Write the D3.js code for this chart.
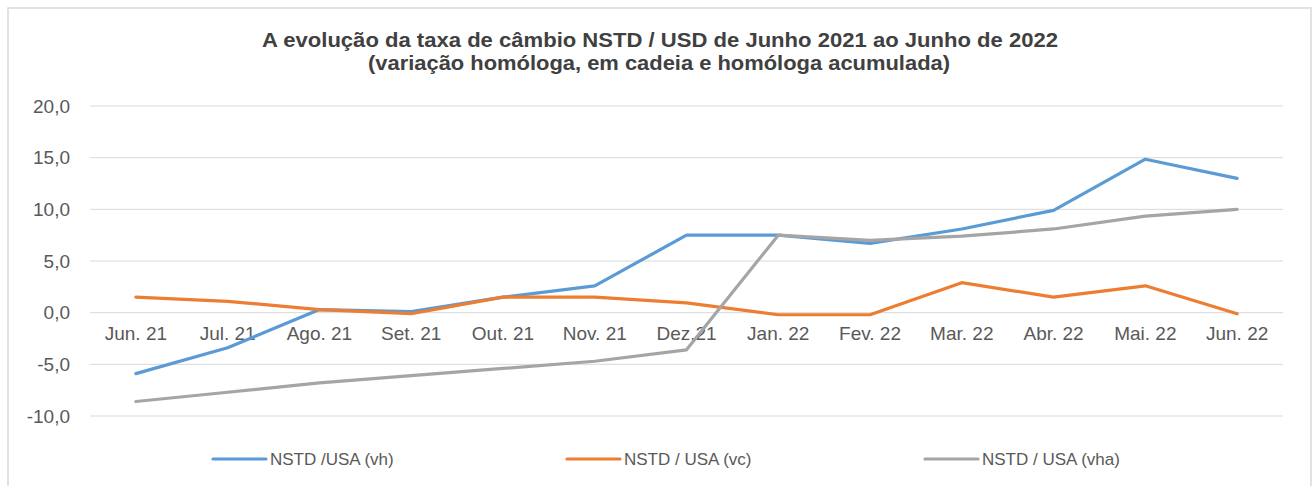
<!DOCTYPE html>
<html>
<head>
<meta charset="utf-8">
<script src="https://cdn.jsdelivr.net/npm/d3@7"></script>
<style>
    body { margin: 0; background: #fff; }
    text { font-family: "Liberation Sans", Arial, sans-serif; }
</style>
</head>
<body>
<div id="chart"></div>
<script>
// categories and series
const months = ["Jun. 21", "Jul. 21", "Ago. 21", "Set. 21", "Out. 21", "Nov. 21", "Dez.21",
    "Jan. 22", "Fev. 22", "Mar. 22", "Abr. 22", "Mai. 22", "Jun. 22"];
const vh = [-5.9, -3.4, 0.3, 0.1, 1.5, 2.6, 7.5, 7.5, 6.7, 8.1, 9.9, 14.85, 13.0];
const vc = [1.5, 1.1, 0.3, -0.1, 1.5, 1.5, 0.95, -0.2, -0.2, 2.9, 1.5, 2.6, -0.1];
const vha = [-8.6, -7.7, -6.8, -6.1, -5.4, -4.7, -3.6, 7.5, 7.0, 7.4, 8.1, 9.35, 10.0];
const yTicks = [-10, -5, 0, 5, 10, 15, 20];

const series = [
    { name: "NSTD /USA (vh)", values: vh, color: "#5b9bd5" },
    { name: "NSTD / USA (vc)", values: vc, color: "#ed7d31" },
    { name: "NSTD / USA (vha)", values: vha, color: "#a5a5a5" }
];

const width = 1314, height = 486;
const margin = { top: 106, right: 31, bottom: 70, left: 90 };
const innerW = width - margin.left - margin.right;

const svg = d3.select("#chart").append("svg")
    .attr("width", width)
    .attr("height", height);

// chart frame
svg.append("rect")
    .attr("x", 8).attr("y", 8)
    .attr("width", 1303).attr("height", 490)
    .attr("fill", "none")
    .attr("stroke", "#d9d9d9")
    .attr("stroke-width", 1.5);

// title (the original is set a bit wide, so stretch to its width)
const title = svg.append("text")
    .attr("text-anchor", "middle")
    .attr("fill", "#404040")
    .style("font-weight", "bold")
    .style("font-size", "20px");
title.append("tspan").attr("x", 660).attr("y", 47)
    .attr("textLength", 796).attr("lengthAdjust", "spacingAndGlyphs")
    .text("A evolução da taxa de câmbio NSTD / USD de Junho 2021 ao Junho de 2022");
title.append("tspan").attr("x", 659).attr("y", 70)
    .attr("textLength", 582).attr("lengthAdjust", "spacingAndGlyphs")
    .text("(variação homóloga, em cadeia e homóloga acumulada)");

const g = svg.append("g")
    .attr("transform", `translate(${margin.left},${margin.top})`);

const x = d3.scaleBand()
    .domain(months)
    .range([0, innerW]);

const y = d3.scaleLinear()
    .domain([-10, 20])
    .range([310, 0]);

// gridlines
g.append("g")
    .selectAll("line")
    .data(yTicks)
    .join("line")
    .attr("x1", 0).attr("x2", innerW)
    .attr("y1", d => y(d)).attr("y2", d => y(d))
    .attr("stroke", "#d9d9d9")
    .attr("stroke-width", 1);

// y axis labels
const yAxis = g.append("g")
    .call(d3.axisLeft(y).tickValues(yTicks).tickSize(0).tickPadding(20)
        .tickFormat(d => d3.format(".1f")(d).replace(".", ",").replace("−", "-")));
yAxis.select(".domain").remove();
yAxis.selectAll("text")
    .attr("fill", "#595959")
    .style("font-size", "19px")
    .attr("font-family", null);

// x axis labels, sitting under the zero line
const xAxis = g.append("g")
    .attr("transform", `translate(0,${y(0)})`)
    .call(d3.axisBottom(x).tickSize(0).tickPadding(14));
xAxis.select(".domain").remove();
xAxis.selectAll("text")
    .attr("fill", "#595959")
    .style("font-size", "19px")
    .attr("font-family", null);

// lines
const line = d3.line()
    .x((d, i) => x(months[i]) + x.bandwidth() / 2)
    .y(d => y(d));

g.selectAll(".series")
    .data(series)
    .join("path")
    .attr("class", "series")
    .attr("d", d => line(d.values))
    .attr("fill", "none")
    .attr("stroke", d => d.color)
    .attr("stroke-width", 3.2)
    .attr("stroke-linejoin", "round")
    .attr("stroke-linecap", "round");

// legend
const legendX = [213, 567, 925];
const legend = svg.selectAll(".legend")
    .data(series)
    .join("g")
    .attr("class", "legend")
    .attr("transform", (d, i) => `translate(${legendX[i]},459)`);

legend.append("line")
    .attr("x1", 0).attr("x2", 53)
    .attr("y1", 0).attr("y2", 0)
    .attr("stroke", d => d.color)
    .attr("stroke-width", 3.2)
    .attr("stroke-linecap", "round");

legend.append("text")
    .attr("x", 57)
    .attr("y", 6)
    .attr("fill", "#595959")
    .style("font-size", "17px")
    .text(d => d.name);
</script>
</body>
</html>
